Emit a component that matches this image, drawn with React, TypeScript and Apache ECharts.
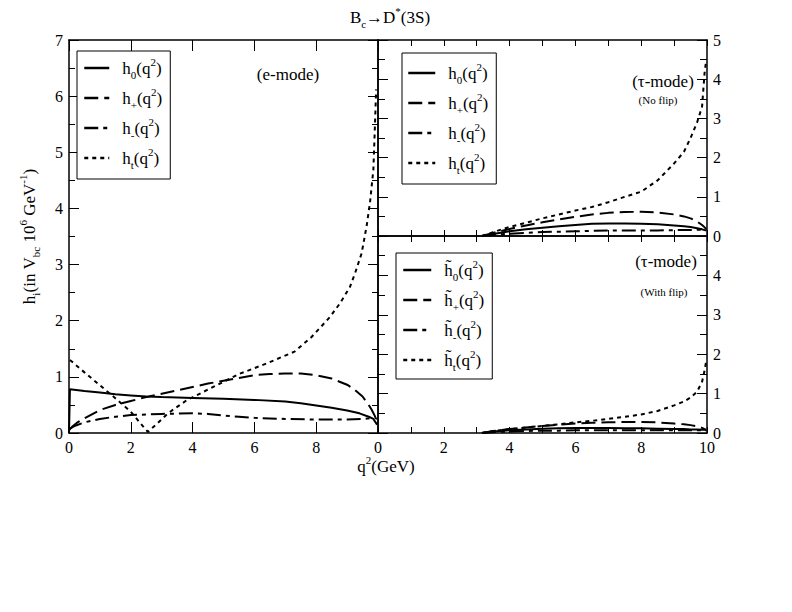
import React, { useEffect, useRef } from "react";
import * as echarts from "echarts";

// ---------- data ----------
// e-mode panel: [q^2, h] pairs
const eH0: [number, number][] = [
  [0, 0], [0.03, 0.78], [0.5, 0.75], [1, 0.72], [1.5, 0.69], [2, 0.67], [2.5, 0.65],
  [3, 0.64], [4, 0.625], [5, 0.61], [6, 0.59], [7, 0.56], [7.5, 0.53], [8, 0.49],
  [8.5, 0.45], [9, 0.4], [9.4, 0.35], [9.7, 0.29], [9.85, 0.25], [9.97, 0.15],
];
const eHp: [number, number][] = [
  [0, 0.05], [0.1, 0.11], [0.25, 0.18], [0.5, 0.26], [1, 0.41], [1.5, 0.5], [2, 0.57],
  [2.5, 0.64], [3, 0.7], [3.5, 0.76], [4, 0.82], [4.5, 0.88], [5, 0.93], [5.5, 0.98],
  [6, 1.03], [6.5, 1.05], [7, 1.06], [7.5, 1.06], [8, 1.03], [8.5, 0.97], [9, 0.86],
  [9.2, 0.79], [9.5, 0.65], [9.7, 0.5], [9.8, 0.41], [9.9, 0.3], [9.97, 0.17],
];
const eHm: [number, number][] = [
  [0, 0.07], [0.2, 0.13], [0.5, 0.19], [1, 0.25], [1.5, 0.29], [2, 0.32], [3, 0.34],
  [4, 0.35], [4.5, 0.34], [5, 0.31], [5.5, 0.29], [6, 0.27], [7, 0.25], [8, 0.24],
  [9, 0.24], [9.5, 0.25], [9.9, 0.27], [9.97, 0.25],
];
const eHt: [number, number][] = [
  [0.03, 1.3], [0.5, 1.08], [1, 0.85], [1.5, 0.62], [2, 0.38], [2.3, 0.18], [2.55, 0.02],
  [2.8, 0.14], [3.2, 0.35], [3.8, 0.58], [4.7, 0.83], [5.5, 1.05], [6.4, 1.24],
  [7.3, 1.45], [7.85, 1.71], [8.45, 2.07], [8.77, 2.31], [9.09, 2.6], [9.26, 2.85],
  [9.47, 3.2], [9.63, 3.68], [9.74, 4.1], [9.85, 4.69], [9.9, 5.46], [9.94, 6.12],
];

// tau-mode panels: common q^2 grid
const tauQ = [3.16, 3.5, 4, 4.5, 5, 5.5, 6, 6.5, 7, 7.5, 8, 8.5, 9, 9.3, 9.5, 9.7, 9.85, 9.93, 9.98];
// no flip
const nfH0 = [0, 0.05, 0.12, 0.17, 0.21, 0.25, 0.28, 0.31, 0.32, 0.32, 0.31, 0.3, 0.27, 0.25, 0.23, 0.2, 0.17, 0.15, 0.14];
const nfHp = [0, 0.08, 0.18, 0.27, 0.35, 0.42, 0.49, 0.55, 0.59, 0.61, 0.62, 0.6, 0.55, 0.5, 0.45, 0.37, 0.28, 0.22, 0.17];
const nfHm = [0, 0.03, 0.06, 0.08, 0.1, 0.11, 0.12, 0.13, 0.14, 0.14, 0.14, 0.14, 0.15, 0.15, 0.15, 0.16, 0.16, 0.16, 0.15];
const nfHt = [0, 0.1, 0.23, 0.34, 0.45, 0.55, 0.65, 0.74, 0.86, 1.0, 1.13, 1.42, 1.85, 2.15, 2.5, 2.9, 3.3, 4.2, 4.5];
// with flip
const wfH0 = [0, 0.04, 0.07, 0.09, 0.11, 0.12, 0.13, 0.13, 0.13, 0.12, 0.12, 0.11, 0.1, 0.1, 0.09, 0.09, 0.08, 0.08, 0.07];
const wfHp = [0, 0.05, 0.1, 0.14, 0.18, 0.21, 0.24, 0.26, 0.27, 0.28, 0.28, 0.27, 0.24, 0.22, 0.2, 0.17, 0.13, 0.1, 0.08];
const wfHm = [0, 0.02, 0.04, 0.05, 0.06, 0.06, 0.07, 0.07, 0.07, 0.07, 0.07, 0.07, 0.07, 0.07, 0.07, 0.07, 0.07, 0.07, 0.06];
const wfHt = [0, 0.05, 0.1, 0.14, 0.18, 0.22, 0.27, 0.31, 0.36, 0.41, 0.47, 0.56, 0.7, 0.8, 0.9, 1.05, 1.3, 1.6, 1.85];

const legendNames = ["h0", "hp", "hm", "ht"];
const legendNamesT = ["th0", "thp", "thm", "tht"];

// ---------- styling ----------
const SERIF = "'Liberation Serif', 'DejaVu Serif', serif";
const DASH: Record<string, any> = {
  h0: "solid",
  hp: [14, 6],
  hm: [14, 5, 4, 5],
  ht: [4, 4],
};

const rich: any = {
  n: { fontSize: 17, fontFamily: SERIF, color: "#000", lineHeight: 24, verticalAlign: "middle" },
  sub: { fontSize: 11, fontFamily: SERIF, color: "#000", padding: [13, 0, 0, 0], verticalAlign: "middle" },
  sup: { fontSize: 11, fontFamily: SERIF, color: "#000", padding: [0, 0, 13, 0], verticalAlign: "middle" },
  g: { width: 8 },
};

const legendText: Record<string, string> = {
  h0: "{g|}{n|h}{sub|0}{n|(q}{sup|2}{n|)}",
  hp: "{g|}{n|h}{sub|+}{n|(q}{sup|2}{n|)}",
  hm: "{g|}{n|h}{sub|-}{n|(q}{sup|2}{n|)}",
  ht: "{g|}{n|h}{sub|t}{n|(q}{sup|2}{n|)}",
  th0: "{g|}{n|h\u0303}{sub|0}{n|(q}{sup|2}{n|)}",
  thp: "{g|}{n|h\u0303}{sub|+}{n|(q}{sup|2}{n|)}",
  thm: "{g|}{n|h\u0303}{sub|-}{n|(q}{sup|2}{n|)}",
  tht: "{g|}{n|h\u0303}{sub|t}{n|(q}{sup|2}{n|)}",
};

function dashOf(name: string) {
  return DASH[name.replace(/^t/, "")] ?? DASH[name];
}

function lineSeries(name: string, data: number[][], xi: number, yi: number) {
  return {
    type: "line",
    name,
    data,
    xAxisIndex: xi,
    yAxisIndex: yi,
    symbol: "none",
    showSymbol: false,
    silent: true,
    smooth: false,
    lineStyle: { color: "#000", width: 2, type: dashOf(name) },
    itemStyle: { color: "#000" },
  };
}

const pairs = (ys: number[]) => tauQ.map((q, i) => [q, ys[i]]);

const axisBase = (extra: any) => ({
  type: "value",
  axisLine: { show: true, onZero: false, lineStyle: { color: "#000", width: 1.5 } },
  splitLine: { show: false },
  axisLabel: { show: false, color: "#000", fontFamily: SERIF, fontSize: 16 },
  ...extra,
});

function makeOption() {
  const tick = (len: number) => ({ show: true, inside: true, length: len, lineStyle: { color: "#000", width: 1 } });
  const minor = (len: number) => ({ show: true, splitNumber: 2, length: len, lineStyle: { color: "#000", width: 1 } });

  const xAxis = [
    axisBase({
      gridIndex: 0, position: "bottom", min: 0, max: 10, interval: 2,
      axisTick: tick(11),
      axisLabel: { show: true, showMaxLabel: false, color: "#000", fontFamily: SERIF, fontSize: 16, margin: 6 },
    }),
    axisBase({ gridIndex: 0, position: "top", min: 0, max: 10, interval: 2, axisTick: tick(11) }),
    axisBase({ gridIndex: 1, position: "bottom", min: 0, max: 10, interval: 1, axisTick: tick(6) }),
    axisBase({ gridIndex: 1, position: "top", min: 0, max: 10, interval: 1, axisTick: tick(6) }),
    axisBase({
      gridIndex: 2, position: "bottom", min: 0, max: 10, interval: 1, axisTick: tick(6),
      axisLabel: {
        show: true, color: "#000", fontFamily: SERIF, fontSize: 16, margin: 6,
        formatter: (v: number) => (Math.round(v) % 2 === 0 ? String(Math.round(v)) : ""),
      },
    }),
    axisBase({ gridIndex: 2, position: "top", min: 0, max: 10, interval: 1, axisTick: tick(6) }),
  ];

  const yAxis = [
    axisBase({
      gridIndex: 0, position: "left", min: 0, max: 7, interval: 1,
      axisTick: tick(10), minorTick: minor(6),
      axisLabel: { show: true, color: "#000", fontFamily: SERIF, fontSize: 16, margin: 6 },
      name: "{n|h}{sub|i}{n|(in V}{sub|bc}{n| 10}{sup|6}{n| GeV}{sup|-1}{n|)}",
      nameLocation: "middle",
      nameRotate: 90,
      nameGap: 28,
      nameTextStyle: { rich, fontFamily: SERIF, color: "#000" },
    }),
    axisBase({ gridIndex: 0, position: "right", min: 0, max: 7, interval: 1, axisTick: tick(10), minorTick: minor(6) }),
    axisBase({ gridIndex: 1, position: "left", min: 0, max: 5, interval: 1, axisTick: tick(10), minorTick: minor(7) }),
    axisBase({
      gridIndex: 1, position: "right", min: 0, max: 5, interval: 1, axisTick: tick(10), minorTick: minor(7),
      axisLabel: { show: true, color: "#000", fontFamily: SERIF, fontSize: 16, margin: 6 },
    }),
    axisBase({ gridIndex: 2, position: "left", min: 0, max: 5, interval: 1, axisTick: tick(10), minorTick: minor(7) }),
    axisBase({
      gridIndex: 2, position: "right", min: 0, max: 5, interval: 1, axisTick: tick(10), minorTick: minor(7),
      axisLabel: { show: true, showMaxLabel: false, color: "#000", fontFamily: SERIF, fontSize: 16, margin: 6 },
    }),
  ];

  const series = [
    lineSeries("h0", eH0, 0, 0),
    lineSeries("hp", eHp, 0, 0),
    lineSeries("hm", eHm, 0, 0),
    lineSeries("ht", eHt, 0, 0),
    lineSeries("h0", pairs(nfH0), 2, 2),
    lineSeries("hp", pairs(nfHp), 2, 2),
    lineSeries("hm", pairs(nfHm), 2, 2),
    lineSeries("ht", pairs(nfHt), 2, 2),
    lineSeries("th0", pairs(wfH0), 4, 4),
    lineSeries("thp", pairs(wfHp), 4, 4),
    lineSeries("thm", pairs(wfHm), 4, 4),
    lineSeries("tht", pairs(wfHt), 4, 4),
  ];

  const legendBase = (left: number, top: number, data: string[], itemWidth: number, padding: number[]) => ({
    orient: "vertical",
    left,
    top,
    data,
    itemWidth,
    itemHeight: 14,
    itemGap: 6,
    padding,
    borderColor: "#000",
    borderWidth: 1,
    selectedMode: false,
    backgroundColor: "#fff",
    itemStyle: { opacity: 0 },
    lineStyle: { width: 2.5 },
    formatter: (name: string) => legendText[name],
    textStyle: { rich, fontFamily: SERIF, color: "#000" },
  });

  const legend = [
    legendBase(77, 51, legendNames, 25, [5, 8, 9, 6]),
    legendBase(402, 53, legendNames, 27, [8, 8, 9, 5]),
    legendBase(396, 253, legendNamesT, 28, [5, 8, 7, 6]),
  ];

  const t = (x: number, y: number, text: string, fontSize: number) => ({
    type: "text",
    x,
    y,
    style: { text, fontFamily: SERIF, fontSize, fill: "#000", align: "center", verticalAlign: "middle" },
    silent: true,
  });

  const graphic = [
    {
      type: "text",
      x: 390,
      y: 17,
      style: {
        text: "{n|B}{sub|c}{n|\u2192D}{sup|*}{n|(3S)}",
        rich,
        align: "center",
        verticalAlign: "middle",
        fill: "#000",
        fontFamily: SERIF,
      },
      silent: true,
    },
    {
      type: "text",
      x: 386,
      y: 466,
      style: {
        text: "{n|q}{sup|2}{n|(GeV)}",
        rich,
        align: "center",
        verticalAlign: "middle",
        fill: "#000",
        fontFamily: SERIF,
      },
      silent: true,
    },
    t(288, 74, "(e-mode)", 17),
    t(663, 81, "(\u03c4-mode)", 17),
    t(658, 100, "(No flip)", 11),
    t(666, 261, "(\u03c4-mode)", 17),
    t(664, 292, "(With flip)", 11),
  ];

  return {
    animation: false,
    backgroundColor: "#fff",
    grid: [
      { left: 69, top: 40, width: 309, height: 393, containLabel: false },
      { left: 378, top: 40, width: 329, height: 196, containLabel: false },
      { left: 378, top: 236, width: 329, height: 197, containLabel: false },
    ],
    xAxis,
    yAxis,
    legend,
    series,
    graphic,
  };
}

export default function App() {
  const ref = useRef<HTMLDivElement>(null);
  useEffect(() => {
    if (!ref.current) return;
    const chart = echarts.init(ref.current, undefined, { renderer: "svg" });
    chart.setOption(makeOption() as any);
    return () => chart.dispose();
  }, []);
  return (
    <div
      ref={ref}
      style={{ position: "absolute", left: 0, top: 0, width: 792, height: 612, background: "#fff" }}
    />
  );
}
